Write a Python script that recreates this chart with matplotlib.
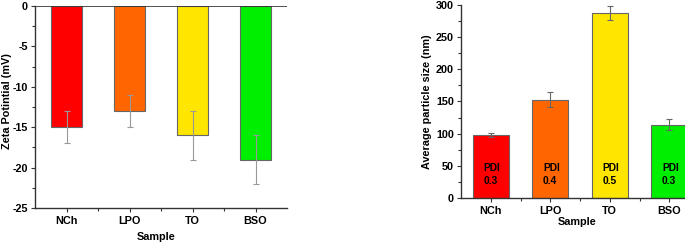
import numpy as np
import matplotlib.pyplot as plt
from matplotlib.ticker import MultipleLocator, FixedLocator

plt.rcParams['font.family'] = ['Liberation Sans', 'DejaVu Sans']
plt.rcParams['font.weight'] = 'bold'
plt.rcParams['axes.unicode_minus'] = False

samples = ['NCh', 'LPO', 'TO', 'BSO']
colors = ['#ff0000', '#ff6600', '#ffe600', '#00ee00']

zeta = [-15, -13, -16, -19]
zeta_err = [2, 2, 3, 3]

size = [98, 153, 288, 114]
size_err = [3.5, 12, 11, 9]
pdi = ['0.3', '0.4', '0.5', '0.3']

x = np.arange(1, len(samples) + 1)
fs = 7.8

fig = plt.figure(figsize=(6.85, 2.43), dpi=100)

# left: zeta potential
ax1 = fig.add_axes([35/685, 1 - 208/243, 252/685, 202/243])
ax1.bar(x, zeta, width=0.5, color=colors, edgecolor='#666666', linewidth=0.8)
ax1.errorbar(x, zeta, yerr=zeta_err, fmt='none', ecolor='#999999',
             elinewidth=0.8, capsize=2, capthick=0.8)
ax1.axhline(0, color='#333333', linewidth=1.2)
ax1.set_xlim(0.5, 4.5)
ax1.set_ylim(-25, 0)
ax1.yaxis.set_major_locator(MultipleLocator(5))
ax1.yaxis.set_minor_locator(MultipleLocator(2.5))
ax1.set_ylabel('Zeta Potintial (mV)', fontsize=fs, fontweight='bold', va='center')
ax1.set_xlabel('Sample', fontsize=fs, fontweight='bold', va='center')
ax1.yaxis.set_label_coords(-0.111, 0.53)
ax1.xaxis.set_label_coords(0.48, -0.143)

# right: particle size
ax2 = fig.add_axes([461/685, 1 - 198/243, 238/685, 193/243])
ax2.bar(x, size, width=0.6, color=colors, edgecolor='#666666', linewidth=0.8)
ax2.errorbar(x, size, yerr=size_err, fmt='none', ecolor='#666666',
             elinewidth=0.8, capsize=2, capthick=0.8)
for xi, p in zip(x, pdi):
    ax2.text(xi - 0.12, 47, 'PDI', fontsize=7.4, fontweight='bold', ha='left', va='center')
    ax2.text(xi - 0.12, 26, p, fontsize=7.4, fontweight='bold', ha='left', va='center')
ax2.set_xlim(0.5, 4.5)
ax2.set_ylim(0, 300)
ax2.yaxis.set_major_locator(MultipleLocator(50))
ax2.yaxis.set_minor_locator(MultipleLocator(25))
ax2.set_ylabel('Average particle size (nm)', fontsize=fs, fontweight='bold', va='center')
ax2.set_xlabel('Sample', fontsize=fs, fontweight='bold', va='center')
ax2.yaxis.set_label_coords(-0.143, 0.5)
ax2.xaxis.set_label_coords(0.487, -0.124)

for ax in (ax1, ax2):
    ax.spines['top'].set_visible(False)
    ax.spines['right'].set_visible(False)
    for s in ('left', 'bottom'):
        ax.spines[s].set_color('#333333')
        ax.spines[s].set_linewidth(1.0)
    ax.set_xticks(x)
    ax.set_xticklabels(samples, fontweight='bold')
    ax.xaxis.set_minor_locator(FixedLocator([1.5, 2.5, 3.5]))
    ax.tick_params(axis='both', which='major', direction='out', length=3,
                   width=0.8, labelsize=fs, color='#333333', pad=2)
    ax.tick_params(axis='both', which='minor', direction='out', length=2,
                   width=0.8, color='#333333')
    ax.tick_params(axis='x', which='major', pad=3)
    for lab in ax.get_yticklabels():
        lab.set_fontweight('bold')

fig.savefig('out.png', dpi=100)
